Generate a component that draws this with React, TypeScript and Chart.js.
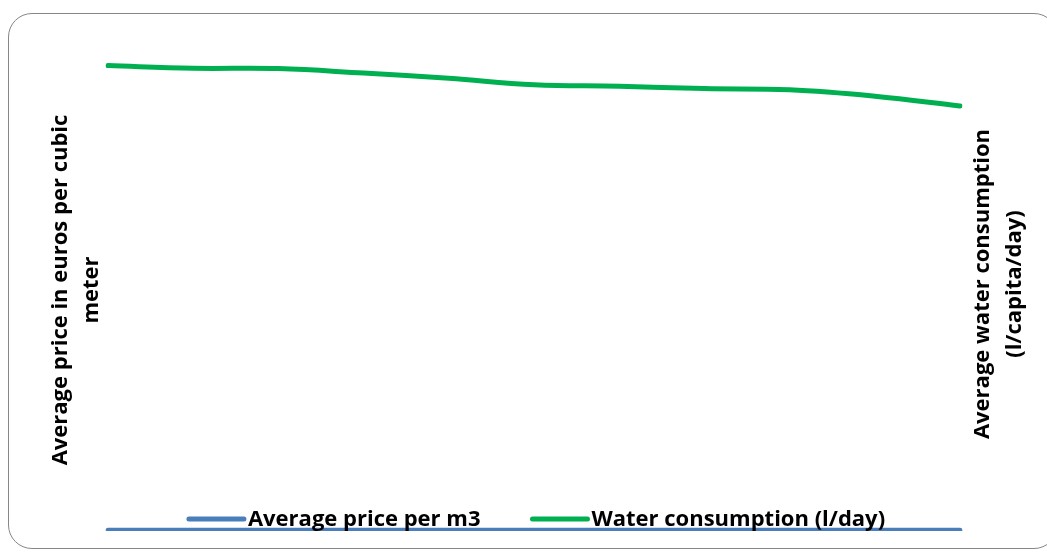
import React, { useEffect, useRef } from "react";
import { Chart, registerables } from "chart.js";

Chart.register(...registerables);

const categories = ["2000", "2001", "2002", "2003", "2004", "2005", "2006", "2007", "2008", "2009", "2010"];
const priceValues = [0.5, 0.5, 0.5, 0.5, 0.5, 0.5, 0.5, 0.5, 0.5, 0.5, 0.5];
const waterValues = [153.3, 152.4, 152.3, 150.8, 149.1, 147.0, 146.5, 145.7, 145.3, 143.2, 140.0];
const seriesNames = ["Average price per m3", "Water consumption (l/day)"];
const leftTitle = ["Average price in euros per cubic", "meter"];
const rightTitle = ["Average water consumption", "(l/capita/day)"];

const FONT = "700 22px 'Open Sans', sans-serif";

const titlesAndLegend = {
  id: "titlesAndLegend",
  afterDraw(chart: any) {
    const { ctx, chartArea } = chart;
    ctx.save();
    ctx.fillStyle = "#000";
    ctx.font = FONT;
    ctx.textAlign = "center";
    ctx.textBaseline = "middle";
    const drawRot = (lines: string[], x0: number, step: number, cy: number) => {
      lines.forEach((t, i) => {
        ctx.save();
        ctx.translate(x0 + i * step, cy);
        ctx.rotate(-Math.PI / 2);
        ctx.fillText(t, 0, 0);
        ctx.restore();
      });
    };
    drawRot(leftTitle, 61, 31, 290);
    drawRot(rightTitle, 983, 32, 284);

    // legend
    const sample = 55;
    const gap = 4;
    const between = 52;
    const ly = 519;
    const widths = chart.data.datasets.map((d: any) => sample + gap + ctx.measureText(d.label).width);
    const total = widths.reduce((a: number, b: number) => a + b, 0) + between * (widths.length - 1);
    let x = (chartArea.left + chartArea.right) / 2 + 3 - total / 2;
    ctx.textAlign = "left";
    chart.data.datasets.forEach((d: any, i: number) => {
      ctx.strokeStyle = d.borderColor;
      ctx.lineWidth = 5;
      ctx.lineCap = "round";
      ctx.beginPath();
      ctx.moveTo(x, ly);
      ctx.lineTo(x + sample, ly);
      ctx.stroke();
      ctx.fillStyle = "#000";
      ctx.fillText(d.label, x + sample + gap, ly + 1);
      x += widths[i] + between;
    });
    ctx.restore();
  },
};

export default function App() {
  const ref = useRef<HTMLCanvasElement>(null);
  useEffect(() => {
    if (!ref.current) return;
    const chart = new Chart(ref.current, {
      type: "line",
      data: {
        labels: categories,
        datasets: [
          {
            label: seriesNames[0],
            data: priceValues,
            yAxisID: "y",
            borderColor: "#4A7EBB",
            borderWidth: 5,
            pointRadius: 0,
            tension: 0.4,
            borderCapStyle: "round",
          },
          {
            label: seriesNames[1],
            data: waterValues,
            yAxisID: "y1",
            borderColor: "#00B050",
            borderWidth: 5,
            pointRadius: 0,
            tension: 0.4,
            borderCapStyle: "round",
          },
        ],
      },
      options: {
        animation: false,
        responsive: false,
        layout: { padding: { left: 108, right: 87, top: 30, bottom: 21 } },
        plugins: { legend: { display: false }, tooltip: { enabled: false } },
        scales: {
          x: { display: false },
          y: { display: false, min: 0, max: 400 },
          y1: { display: false, position: "right", min: 0, max: 165 },
        },
      },
      plugins: [titlesAndLegend],
    });
    return () => chart.destroy();
  }, []);
  return (
    <div style={{ position: "fixed", left: 0, top: 0, width: 1047, height: 552, background: "#fff" }}>
      <div
        style={{
          position: "absolute",
          left: 8,
          top: 13,
          width: 1050,
          height: 536,
          border: "1.5px solid #868686",
          borderRadius: 24,
          boxSizing: "border-box",
        }}
      />
      <canvas ref={ref} width={1047} height={552} style={{ position: "absolute", left: 0, top: 0 }} />
    </div>
  );
}
